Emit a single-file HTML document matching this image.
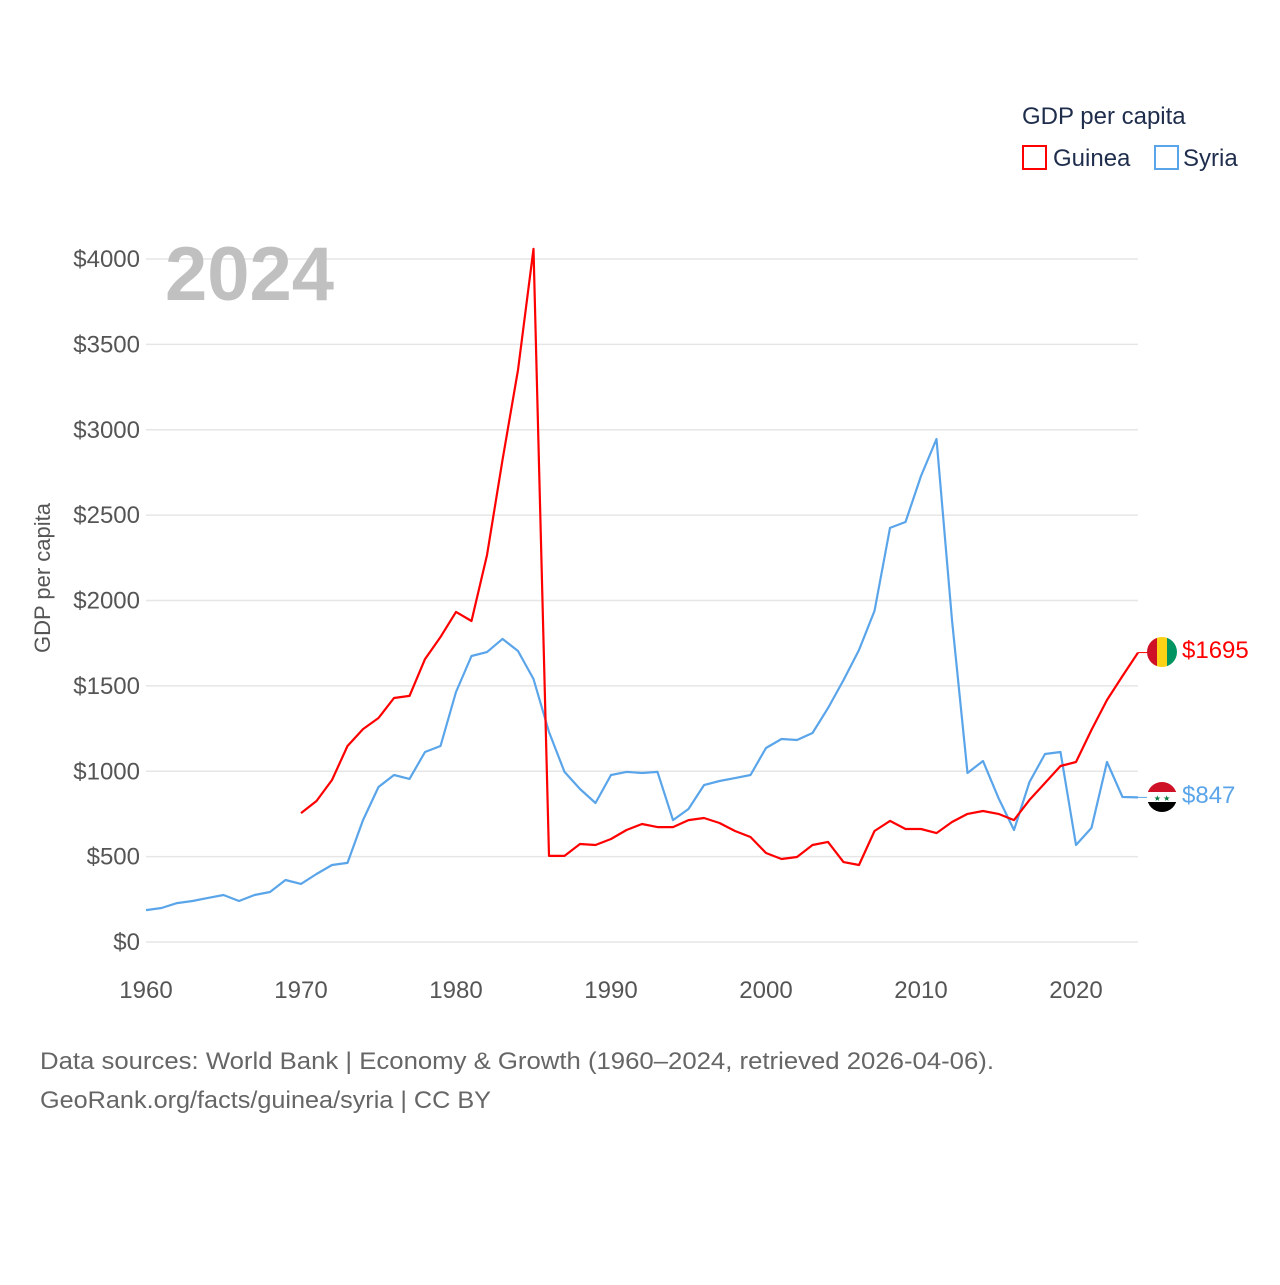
<!DOCTYPE html>
<html><head><meta charset="utf-8"><style>
body{margin:0;background:#fff;font-family:"Liberation Sans",sans-serif;}
svg text{font-family:"Liberation Sans",sans-serif;}
</style></head><body>
<svg id="chart" width="1280" height="1280" viewBox="0 0 1280 1280" xmlns="http://www.w3.org/2000/svg">
<rect width="1280" height="1280" fill="#fff"/>
<g id="grid"></g>
<g id="yticks"></g>
<g id="xticks"></g>
<text x="165" y="300" font-size="76" font-weight="bold" fill="#c0c0c0">2024</text>
<text transform="translate(50,578) rotate(-90)" text-anchor="middle" font-size="22" fill="#555">GDP per capita</text>
<g id="series"></g>
<g>
<text x="1022" y="124" font-size="24" fill="#1f2d4d">GDP per capita</text>
<rect x="1023" y="146" width="23" height="23" fill="none" stroke="#ff0000" stroke-width="2"/>
<text x="1053" y="166" font-size="24" fill="#1f2d4d">Guinea</text>
<rect x="1155" y="146" width="23" height="23" fill="none" stroke="#5aa5ea" stroke-width="2"/>
<text x="1183" y="166" font-size="24" fill="#1f2d4d">Syria</text>
</g>
<g>
<clipPath id="cg"><circle cx="1162" cy="652" r="15"/></clipPath>
<g clip-path="url(#cg)"><rect x="1147" y="637" width="10" height="30" fill="#ce1126"/><rect x="1157" y="637" width="10" height="30" fill="#fcd116"/><rect x="1167" y="637" width="10" height="30" fill="#009460"/></g>
</g>
<g>
<clipPath id="cs"><circle cx="1162" cy="797" r="15"/></clipPath>
<g clip-path="url(#cs)"><rect x="1147" y="782" width="30" height="10" fill="#ce1126"/><rect x="1147" y="792" width="30" height="10" fill="#fff"/><rect x="1147" y="802" width="30" height="10" fill="#000"/></g>
<text x="1162" y="801" font-size="8" text-anchor="middle" fill="#007a3d">★ ★</text>
</g>
<text id="lbl-guinea" x="1182" y="658" font-size="24" fill="#ff0000">$1695</text>
<text id="lbl-syria" x="1182" y="803" font-size="24" fill="#5aa5ea">$847</text>
<text x="40" y="1069" font-size="24" fill="#666" textLength="954" lengthAdjust="spacingAndGlyphs">Data sources: World Bank | Economy &amp; Growth (1960–2024, retrieved 2026-04-06).</text>
<text x="40" y="1108" font-size="24" fill="#666" textLength="451" lengthAdjust="spacingAndGlyphs">GeoRank.org/facts/guinea/syria | CC BY</text>
</svg>
<script>
const syriaYears0 = 1960;
const syriaValues = [187,199,228,240,258,275,240,275,293,363,340,398,451,463,714,908,978,955,1113,1148,1464,1675,1698,1775,1704,1540,1230,996,896,814,978,996,990,996,714,779,919,943,960,978,1136,1189,1183,1224,1370,1534,1710,1939,2425,2460,2729,2946,1886,990,1060,843,656,937,1101,1113,568,668,1054,849,847];
const guineaYears0 = 1970;
const guineaValues = [755,826,949,1148,1247,1312,1429,1441,1657,1786,1933,1880,2266,2823,3350,4059,504,504,574,568,603,656,691,673,673,714,726,697,650,615,521,486,498,568,586,468,451,650,709,662,662,638,703,750,767,750,714,832,931,1031,1054,1242,1417,1558,1695];
const yTicks = [0,500,1000,1500,2000,2500,3000,3500,4000];
const xTicks = [1960,1970,1980,1990,2000,2010,2020];
const NS = "http://www.w3.org/2000/svg";
const xs = yr => 146 + (yr - 1960) * 15.5;
const ys = v => 942 - v * 0.17075;
function mk(tag, attrs, parent){const e=document.createElementNS(NS,tag);for(const k in attrs)e.setAttribute(k,attrs[k]);parent.appendChild(e);return e;}
const grid=document.getElementById('grid'), yt=document.getElementById('yticks'), xt=document.getElementById('xticks');
yTicks.forEach(v=>{
  const l=mk('line',{x1:146,x2:1138,y1:ys(v),y2:ys(v),stroke:'#e6e6e6','stroke-width':1.5},grid);
  
  
  const t=mk('text',{x:140,y:ys(v)+8,'text-anchor':'end','font-size':24,fill:'#555'},yt);
  t.textContent='$'+v;
  
  
});
xTicks.forEach(yr=>{
  const t=mk('text',{x:xs(yr),y:998,'text-anchor':'middle','font-size':24,fill:'#555'},xt);
  t.textContent=yr;
  
  
});
const sg=document.getElementById('series');
function line(vals,y0,color,name){
  const d=vals.map((v,i)=>(i?'L':'M')+xs(y0+i).toFixed(1)+','+ys(v).toFixed(1)).join(' ');
  const p=mk('path',{d:d,fill:'none',stroke:color,'stroke-width':2.2,'stroke-linejoin':'round'},sg);
  
  
  const last=vals[vals.length-1];
  const c=mk('line',{x1:xs(y0+vals.length-1),x2:1147,y1:ys(last),y2:ys(last),stroke:color,'stroke-width':1},sg);
  
  
}
line(syriaValues,syriaYears0,'#5aa5ea','line-syria');
line(guineaValues,guineaYears0,'#ff0000','line-guinea');
</script>
</body></html>
